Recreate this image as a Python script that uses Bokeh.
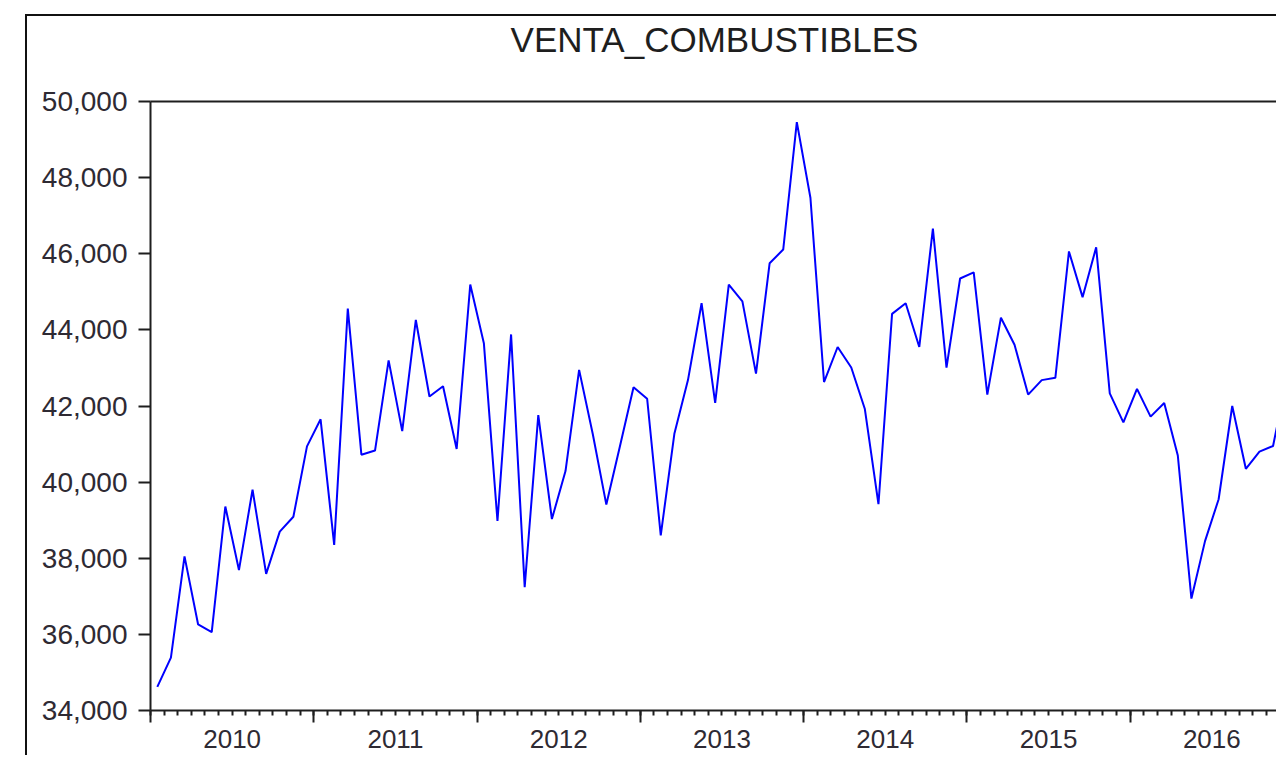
from bokeh.plotting import figure
from bokeh.models import Range1d, FixedTicker, LinearAxis, NumeralTickFormatter
from bokeh.embed import file_html
from bokeh.resources import INLINE

# ---- data (monthly, starting 2010M01) ----
title_text = "VENTA_COMBUSTIBLES"
years = ["2010", "2011", "2012", "2013", "2014", "2015", "2016"]
sales = [
    34620, 35390, 38050, 36260, 36060, 39360, 37690, 39800, 37590, 38700, 39090, 40940,
    41650, 38350, 44560, 40720, 40830, 43200, 41340, 44260, 42250, 42520, 40870, 45190,
    43650, 38980, 43880, 37240, 41760, 39030, 40290, 42950, 41270, 39410, 40940, 42490,
    42190, 38600, 41270, 42680, 44700, 42080, 45190, 44750, 42850, 45750, 46110, 49460,
    47470, 42630, 43550, 43010, 41920, 39420, 44420, 44700, 43550, 46660, 43010, 45350,
    45510, 42300, 44320, 43610, 42300, 42680, 42740, 46060, 44860, 46170, 42330, 41570,
    42450, 41720, 42080, 40700, 36940, 38450, 39550, 42000, 40350, 40800, 40950, 42700,
]
y_ticks = [34000, 36000, 38000, 40000, 42000, 44000, 46000, 48000, 50000]

# x in months since 2010-01; each observation drawn at the centre of its month
month_pos = [i + 0.5 for i in range(len(sales))]
year_bounds = [12 * k for k in range(len(years) + 1)]
year_mids = [12 * k + 6 for k in range(len(years))]
month_bounds = list(range(0, 12 * len(years) + 1))

FONT = "Liberation Sans"
INK = "#1e1e1e"
TXT = "#2e2a33"

p = figure(width=1251, height=741, output_backend="svg", toolbar_location=None,
           x_range=Range1d(0, 82.9), y_range=Range1d(34000, 50000),
           x_axis_location=None, y_axis_location="left",
           min_border_left=123, min_border_right=0, min_border_top=84, min_border_bottom=47,
           margin=(14, 0, 0, 25))
p.styles = {"border-left": "2px solid #111", "border-top": "2px solid #111"}
p.background_fill_color = "white"
p.border_fill_color = "white"
p.outline_line_color = None
p.grid.visible = False

# y axis
ya = p.yaxis[0]
ya.ticker = FixedTicker(ticks=y_ticks)
ya.formatter = NumeralTickFormatter(format="0,0")
ya.major_tick_out = 12
ya.major_tick_in = 0
ya.minor_tick_line_color = None
ya.major_tick_line_width = 2
ya.major_tick_line_color = INK
ya.axis_line_width = 2
ya.axis_line_color = INK
ya.major_label_standoff = 11
ya.major_label_text_font = FONT
ya.major_label_text_font_size = "28px"
ya.major_label_text_color = TXT

# top border line of the frame, carrying the chart title
top = LinearAxis(ticker=FixedTicker(ticks=[]), axis_line_width=2, axis_line_color=INK,
                 major_tick_line_color=None, minor_tick_line_color=None,
                 major_label_text_font_size="0px",
                 axis_label=title_text, axis_label_text_font=FONT,
                 axis_label_text_font_size="35px", axis_label_text_font_style="normal",
                 axis_label_text_color=INK, axis_label_standoff=43)
p.add_layout(top, "above")

# x axis: year boundaries (long ticks) + monthly minor ticks
xa = LinearAxis(ticker=FixedTicker(ticks=year_bounds, minor_ticks=month_bounds),
                axis_line_width=2, axis_line_color=INK,
                major_tick_out=12, major_tick_in=0, major_tick_line_width=2, major_tick_line_color=INK,
                minor_tick_out=5, minor_tick_in=0, minor_tick_line_width=2, minor_tick_line_color=INK,
                major_label_overrides={b: "" for b in year_bounds},
                major_label_text_font_size="0px", major_label_standoff=0)
p.add_layout(xa, "below")

# year labels centred in each year
xl = LinearAxis(ticker=FixedTicker(ticks=year_mids, minor_ticks=[]),
                axis_line_color=None, major_tick_line_color=None, minor_tick_line_color=None,
                major_label_overrides={m: y for m, y in zip(year_mids, years)},
                major_label_text_font=FONT, major_label_text_font_size="26px",
                major_label_text_color=TXT, major_label_standoff=1)
p.add_layout(xl, "below")

p.line(month_pos, sales, line_color="#0000ff", line_width=2)

open("out.html", "w").write(file_html(p, INLINE))
